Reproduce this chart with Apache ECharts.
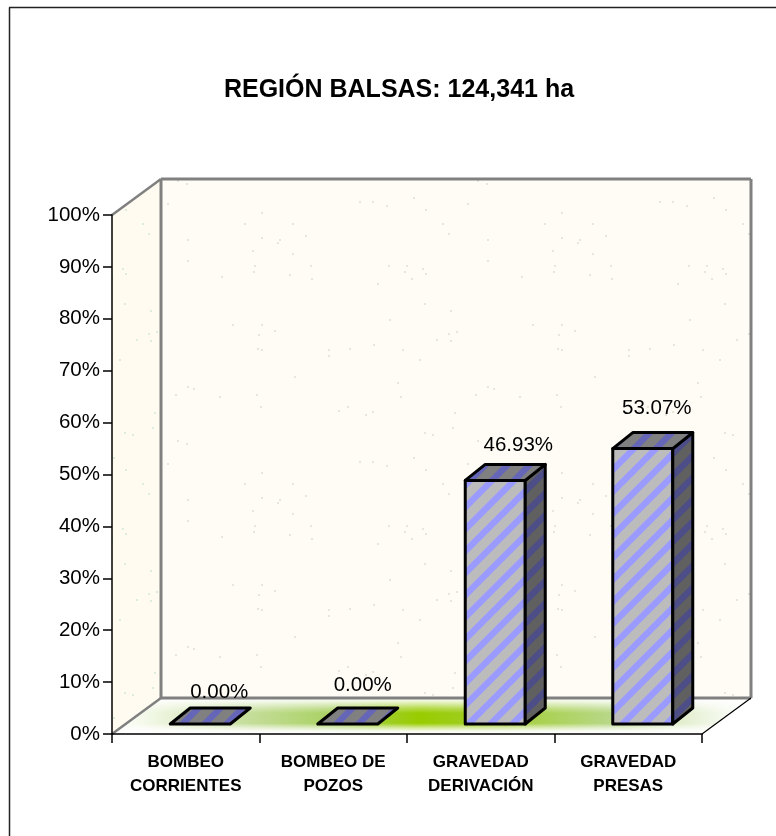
<!DOCTYPE html>
<html>
<head>
<meta charset="utf-8">
<title>Región Balsas</title>
<script src="https://cdn.jsdelivr.net/npm/echarts@6/dist/echarts.min.js"></script>
<style>
html, body { margin: 0; padding: 0; background: #fff; }
#main { width: 776px; height: 836px; }
</style>
</head>
<body>
<div id="main"></div>
<script>
var titleText = 'REGIÓN BALSAS: 124,341 ha';
var categories = ['BOMBEO\nCORRIENTES', 'BOMBEO DE\nPOZOS', 'GRAVEDAD\nDERIVACIÓN', 'GRAVEDAD\nPRESAS'];
var shares = [0, 0, 46.93, 53.07];

// hand placed data labels, the source chart has them moved around [dx, dy]
var labelNudge = [[9, -16], [5, -23], [13, -19], [4, -24]];

var wallDepth = [49, -36];
var barDepth = [20, -16];
var barWidth = 60;
var barLift = [14.5, -10];

// specks of the wall texture, as seen in the picture
var specks = [
    [178,181],[187,184],[168,204],[262,213],[262,238],[245,224],[293,224],[280,240],[293,254],[306,236],
    [253,251],[255,266],[278,243],[188,240],[188,261],[222,277],[254,272],[290,275],[311,266],[312,279],
    [360,202],[373,202],[387,206],[414,198],[426,210],[443,224],[449,234],[389,266],[407,266],[405,272],
    [412,279],[423,269],[426,274],[378,284],[425,304],[451,311],[451,341],[390,320],[233,325],[262,325],
    [275,331],[259,335],[258,349],[262,350],[329,350],[329,356],[350,349],[374,345],[403,350],[420,360],
    [437,340],[449,334],[457,332],[295,377],[188,387],[194,389],[176,395],[220,397],[257,395],[261,407],
    [339,411],[348,407],[366,415],[373,412],[398,383],[401,397],[455,413],[433,435],[425,433],[453,428]
];

function stripeTile(base, stripe) {
    var c = document.createElement('canvas');
    c.width = 22;
    c.height = 22;
    var g = c.getContext('2d');
    g.fillStyle = base;
    g.fillRect(0, 0, 22, 22);
    g.fillStyle = stripe;
    [-22, 0, 22].forEach(function (o) {
        g.beginPath();
        g.moveTo(o, 22);
        g.lineTo(o + 22, 0);
        g.lineTo(o + 31, 0);
        g.lineTo(o + 9, 22);
        g.closePath();
        g.fill();
    });
    return { image: c, repeat: 'repeat' };
}

function speckTile(base, dot) {
    var c = document.createElement('canvas');
    c.width = 300;
    c.height = 260;
    var g = c.getContext('2d');
    g.fillStyle = base;
    g.fillRect(0, 0, 300, 260);
    g.fillStyle = dot;
    specks.forEach(function (s) {
        g.fillRect(s[0] % 300 - 1, s[1] % 260 - 1, 2, 2);
    });
    return { image: c, repeat: 'repeat' };
}

var frontFill = stripeTile('#bcbcbc', '#9a9aff');
var topFill = stripeTile('#808080', '#6666b8');
var sideFill = stripeTile('#606060', '#4d4d88');
var backWallFill = speckTile('#fffcf6', '#e8e5dd');
var sideWallFill = speckTile('#fffbf0', '#dcece0');

function poly(points, style, z2) {
    return { type: 'polygon', shape: { points: points }, style: style, z2: z2 || 0, silent: true };
}
function line(a, b, color, width) {
    return {
        type: 'line',
        shape: { x1: a[0], y1: a[1], x2: b[0], y2: b[1] },
        style: { stroke: color, lineWidth: width },
        silent: true
    };
}

function renderRoom(params) {
    var cs = params.coordSys;
    var l = cs.x, r = cs.x + cs.width, t = cs.y, b = cs.y + cs.height;
    var dx = wallDepth[0], dy = wallDepth[1];
    var floorPts = [[l, b], [r, b], [r + dx, b + dy], [l + dx, b + dy]];
    var gray = '#808080';
    return {
        type: 'group',
        children: [
            poly([[l + dx, t + dy], [r + dx, t + dy], [r + dx, b + dy], [l + dx, b + dy]], { fill: backWallFill }),
            poly([[l, t], [l + dx, t + dy], [l + dx, b + dy], [l, b]], { fill: sideWallFill }),
            poly(floorPts, {
                fill: {
                    type: 'linear', x: 0, y: 0, x2: 1, y2: 0,
                    colorStops: [
                        { offset: 0, color: '#ffffff' },
                        { offset: 0.05, color: '#f4f9ea' },
                        { offset: 0.2, color: '#c8dfa0' },
                        { offset: 0.35, color: '#a8d060' },
                        { offset: 0.48, color: '#99cc00' },
                        { offset: 0.62, color: '#a4ce38' },
                        { offset: 0.78, color: '#b8d888' },
                        { offset: 0.88, color: '#dfecc8' },
                        { offset: 0.96, color: '#f6faf0' },
                        { offset: 1, color: '#ffffff' }
                    ]
                }
            }),
            poly(floorPts, {
                fill: {
                    type: 'linear', x: 0, y: 0, x2: 0, y2: 1,
                    colorStops: [
                        { offset: 0, color: 'rgba(255,255,255,1)' },
                        { offset: 0.1, color: 'rgba(255,255,255,0.8)' },
                        { offset: 0.3, color: 'rgba(255,255,255,0.25)' },
                        { offset: 0.42, color: 'rgba(255,255,255,0)' },
                        { offset: 0.7, color: 'rgba(255,255,255,0)' },
                        { offset: 0.82, color: 'rgba(255,255,255,0.55)' },
                        { offset: 0.92, color: 'rgba(255,255,255,0.92)' },
                        { offset: 1, color: 'rgba(255,255,255,1)' }
                    ]
                }
            }),
            line([l + dx, t + dy], [r + dx, t + dy], gray, 3),
            line([l + dx, t + dy], [l + dx, b + dy], gray, 3),
            line([r + dx, t + dy], [r + dx, b + dy], gray, 3),
            line([l + dx, b + dy], [r + dx, b + dy], gray, 3),
            line([l, t], [l + dx, t + dy], gray, 2.5),
            line([l, b], [l + dx, b + dy], gray, 2.5),
            line([r, b], [r + dx, b + dy], '#000', 1.2)
        ]
    };
}

function renderBar(params, api) {
    var i = api.value(0);
    var v = api.value(1);
    var top = api.coord([i, v]);
    var base = api.coord([i, 0]);
    var x0 = top[0] + barLift[0] - barWidth / 2;
    var x1 = x0 + barWidth;
    var y0 = top[1] + barLift[1];
    var y1 = base[1] + barLift[1];
    var dx = barDepth[0], dy = barDepth[1];
    var edge = { stroke: '#000', lineWidth: 3, lineJoin: 'round' };
    var children = [];
    if (v > 0) {
        children.push(poly([[x0, y0], [x1, y0], [x1, y1], [x0, y1]], Object.assign({ fill: frontFill }, edge)));
        children.push(poly([[x1, y0], [x1 + dx, y0 + dy], [x1 + dx, y1 + dy], [x1, y1]], Object.assign({ fill: sideFill }, edge)));
    }
    children.push(poly([[x0, y0], [x1, y0], [x1 + dx, y0 + dy], [x0 + dx, y0 + dy]], Object.assign({ fill: topFill }, edge)));
    children.push({
        type: 'text',
        silent: true,
        style: {
            text: v.toFixed(2) + '%',
            x: (x0 + x1 + dx) / 2 + labelNudge[i][0],
            y: y0 + dy + labelNudge[i][1],
            align: 'center',
            verticalAlign: 'middle',
            fill: '#000',
            font: '20.5px "Liberation Sans", Arial, sans-serif'
        }
    });
    return { type: 'group', children: children };
}

var chart = echarts.init(document.getElementById('main'), null, { renderer: 'canvas' });
chart.setOption({
    animation: false,
    backgroundColor: '#ffffff',
    textStyle: { fontFamily: '"Liberation Sans", Arial, sans-serif', color: '#000' },
    title: {
        text: titleText,
        left: 394,
        top: 73,
        textAlign: 'center',
        textStyle: { fontSize: 25, fontWeight: 'bold', color: '#000', fontFamily: '"Liberation Sans", Arial, sans-serif' }
    },
    grid: { left: 112, right: 74, top: 215, bottom: 102 },
    xAxis: {
        type: 'category',
        data: categories,
        z: 5,
        boundaryGap: true,
        axisLine: { lineStyle: { color: '#000', width: 1.5 } },
        axisTick: { show: true, length: 9, alignWithLabel: false, lineStyle: { color: '#000', width: 1.5 } },
        axisLabel: { interval: 0, margin: 16, fontSize: 17, fontWeight: 'bold', color: '#000', lineHeight: 24 }
    },
    yAxis: {
        type: 'value',
        min: 0,
        max: 100,
        interval: 10,
        z: 5,
        splitLine: { show: false },
        axisLine: { show: true, lineStyle: { color: '#000', width: 1.5 } },
        axisTick: { show: true, length: 9, lineStyle: { color: '#000', width: 1.5 } },
        axisLabel: { margin: 12, fontSize: 20.5, color: '#000', formatter: '{value}%' }
    },
    graphic: [
        { type: 'line', shape: { x1: 9.5, y1: 836, x2: 9.5, y2: 7.5 }, style: { stroke: '#222', lineWidth: 1.5 }, silent: true },
        { type: 'line', shape: { x1: 9, y1: 7.5, x2: 776, y2: 7.5 }, style: { stroke: '#222', lineWidth: 1.5 }, silent: true }
    ],
    series: [
        {
            type: 'custom',
            name: 'room',
            z: 1,
            silent: true,
            renderItem: renderRoom,
            data: [[0, 0]]
        },
        {
            type: 'custom',
            name: 'share',
            z: 6,
            silent: true,
            renderItem: renderBar,
            encode: { x: 0, y: 1 },
            data: shares.map(function (v, i) { return [i, v]; })
        }
    ]
});
</script>
</body>
</html>
